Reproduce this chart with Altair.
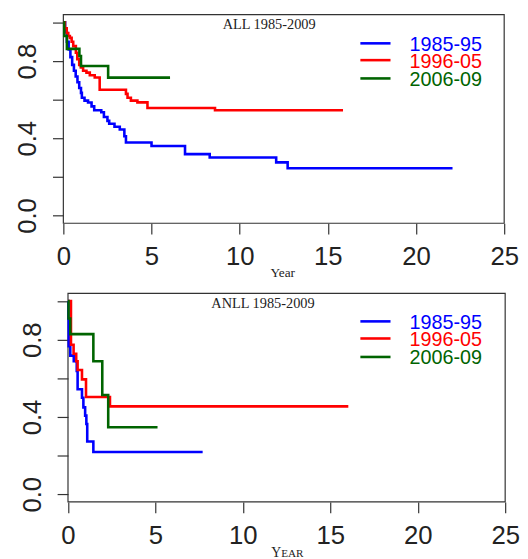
import altair as alt
import pandas as pd

series = ["1985-95", "1996-05", "2006-09"]
colors = ["#0000FF", "#FF0000", "#006400"]
x_ticks = [0, 5, 10, 15, 20, 25]
y_ticks = [0.0, 0.2, 0.4, 0.6, 0.8, 1.0]
y_labeled = ["0.0", "0.4", "0.8"]

# ALL 1985-2009
all_blue_t = [0, 0.1, 0.2, 0.3, 0.4, 0.5, 0.6, 0.7, 0.8, 0.9, 1.0, 1.05, 1.2, 1.4, 1.6, 1.75,
              2.15, 2.3, 2.5, 2.6, 2.9, 3.2, 3.46, 3.55, 5.0, 6.9, 8.3, 12.07, 12.72, 22.07]
all_blue_s = [1.0, 0.95, 0.9, 0.86, 0.82, 0.78, 0.75, 0.72, 0.69, 0.66, 0.635, 0.61, 0.595, 0.585, 0.565, 0.545,
              0.535, 0.51, 0.49, 0.475, 0.46, 0.445, 0.41, 0.378, 0.36, 0.318, 0.30, 0.275, 0.245, 0.245]
all_red_t = [0, 0.09, 0.19, 0.28, 0.37, 0.47, 0.56, 0.71, 0.79, 0.9, 0.99, 1.12, 1.31, 1.5, 1.78,
             2.06, 3.55, 3.64, 3.83, 4.2, 4.77, 4.95, 8.6, 15.86]
all_red_s = [1.0, 0.97, 0.945, 0.93, 0.92, 0.9, 0.877, 0.843, 0.81, 0.78, 0.766, 0.75, 0.74, 0.726, 0.715,
             0.651, 0.63, 0.61, 0.595, 0.586, 0.557, 0.557, 0.545, 0.545]
all_green_t = [0, 0.05, 0.2, 0.91, 1.0, 2.54, 6.05]
all_green_s = [1.0, 0.93, 0.863, 0.826, 0.774, 0.714, 0.714]

# ANLL 1985-2009
anll_blue_t = [0, 0.02, 0.04, 0.13, 0.33, 0.5, 0.55, 0.8, 0.88, 0.98, 1.05, 1.1, 1.45, 7.7]
anll_blue_s = [1.0, 0.91, 0.766, 0.718, 0.689, 0.638, 0.544, 0.5, 0.45, 0.407, 0.364, 0.273, 0.219, 0.219]
anll_red_t = [0, 0.17, 0.32, 0.47, 0.55, 0.8, 1.03, 2.4, 16.03]
anll_red_s = [1.0, 0.774, 0.728, 0.689, 0.643, 0.595, 0.504, 0.455, 0.455]
anll_green_t = [0, 0.03, 0.13, 1.45, 1.96, 2.3, 5.12]
anll_green_s = [1.0, 0.91, 0.829, 0.689, 0.514, 0.347, 0.347]

LABEL_FONT = "Liberation Sans"
SERIF = "Liberation Serif"
INK = "#222222"
LINE = "#333333"


def frame_df(ts, ss):
    rows = []
    for name, t_list, s_list in zip(series, ts, ss):
        for t, s in zip(t_list, s_list):
            rows.append({"series": name, "t": t, "s": s})
    return pd.DataFrame(rows)


one = pd.DataFrame({"k": [0]})


def panel(title, title_x, title_y, ts, ss, width, x_range, y_offset, legend_rows, year_layers):
    df = frame_df(ts, ss)
    xscale = alt.Scale(domain=[0, 25], range=x_range, nice=False, zero=False)
    yscale = alt.Scale(domain=[-0.04, 1.04], nice=False, zero=False)
    xaxis = alt.Axis(values=x_ticks, tickSize=11, tickColor=LINE, tickWidth=1.2, domain=False,
                     grid=False, title=None, labelFont=LABEL_FONT, labelFontSize=26,
                     labelColor=INK, labelPadding=10, labelFlush=False, labelOverlap=False)
    yaxis = alt.Axis(values=y_ticks, format=".1f",
                     labelExpr="indexof(['0.0','0.4','0.8'], datum.label) >= 0 ? datum.label : ''",
                     tickSize=11, tickColor=LINE, tickWidth=1.2, domain=False, grid=False,
                     title=None, labelFont=LABEL_FONT, labelFontSize=26, labelColor=INK,
                     labelAngle=270, labelAlign="center", labelBaseline="alphabetic",
                     labelPadding=17, labelOverlap=False, offset=y_offset)

    box = alt.Chart(one).mark_rect(fillOpacity=0, stroke=LINE, strokeWidth=1.2).encode(
        x=alt.datum(0, scale=xscale, axis=xaxis),
        x2=alt.datum(25),
        y=alt.datum(-0.04, scale=yscale, axis=yaxis),
        y2=alt.datum(1.04),
    )
    lines = alt.Chart(df).mark_line(interpolate="step-after", strokeWidth=2.6).encode(
        x=alt.X("t:Q", scale=xscale, axis=xaxis),
        y=alt.Y("s:Q", scale=yscale, axis=yaxis),
        color=alt.Color("series:N", scale=alt.Scale(domain=series, range=colors), legend=None),
    )
    layers = [box, lines]
    layers.append(alt.Chart(one).mark_text(text=title, font=SERIF, fontSize=14.5, color=INK,
                                           align="right", baseline="alphabetic").encode(
        x=alt.value(title_x), y=alt.value(title_y)))
    for name, col, ry in zip(series, colors, legend_rows):
        layers.append(alt.Chart(one).mark_rule(color=col, strokeWidth=2.6).encode(
            x=alt.value(300.5), x2=alt.value(331), y=alt.value(ry)))
        layers.append(alt.Chart(one).mark_text(text=name, font=LABEL_FONT, fontSize=20, color=col,
                                               align="right", baseline="middle").encode(
            x=alt.value(423.5), y=alt.value(ry + 1.5)))
    for txt, fx, fy, fs in year_layers:
        layers.append(alt.Chart(one).mark_text(text=txt, font=SERIF, fontSize=fs, color=INK,
                                               align="left", baseline="alphabetic").encode(
            x=alt.value(fx), y=alt.value(fy)))
    return alt.layer(*layers).properties(width=width, height=211)


top = panel("ALL 1985-2009", 255.3, 14.3,
            [all_blue_t, all_red_t, all_green_t], [all_blue_s, all_red_s, all_green_s],
            446, [0, 446], 0, [29, 46, 64.5],
            [("Year", 209.5, 265, 13.5)])
bottom = panel("ANLL 1985-2009", 254.3, 14.6,
               [anll_blue_t, anll_red_t, anll_green_t], [anll_blue_s, anll_red_s, anll_green_s],
               447, [4.7, 447], -4.7, [28.3, 45.6, 64.3],
               [("Y", 210.3, 266.8, 14), ("EAR", 220.4, 266.8, 11.3)])

chart = alt.vconcat(top, bottom, spacing=71, bounds="flush").properties(
    padding={"left": 6, "top": 2.5, "right": 0, "bottom": 0}
).configure_view(strokeWidth=0)

chart.save("out.html", embed_options={"renderer": "svg", "actions": False})
